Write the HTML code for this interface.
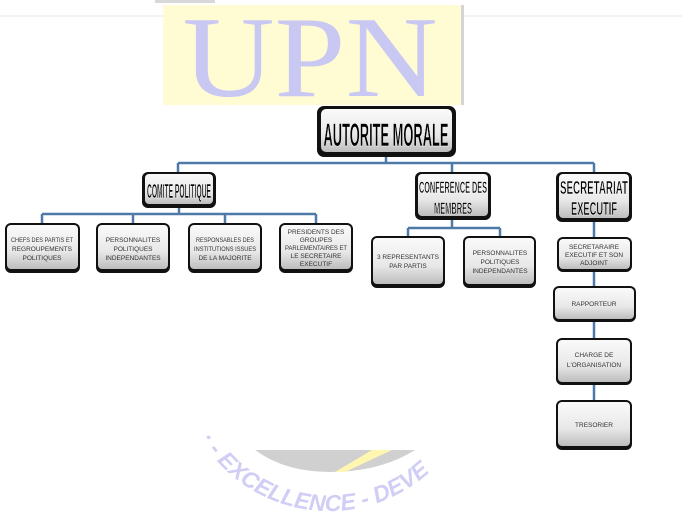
<!DOCTYPE html>
<html><head><meta charset="utf-8"><style>
html,body{margin:0;padding:0;background:#fff;}
svg{display:block;}
text{font-family:"Liberation Sans",sans-serif;}
</style></head><body>
<svg width="682" height="512" viewBox="0 0 682 512" xmlns="http://www.w3.org/2000/svg">
<defs>
<linearGradient id="g" x1="0" y1="0" x2="0" y2="1">
<stop offset="0" stop-color="#fafafa"/><stop offset="0.6" stop-color="#e8e8e8"/><stop offset="1" stop-color="#bdbdbd"/>
</linearGradient>
<path id="arc" d="M 200 438 A 150 150 0 0 0 462 430"/>
</defs>
<line x1="0" y1="16" x2="682" y2="16" stroke="#e4e4e4" stroke-width="1"/>
<rect x="155" y="0" width="60" height="3" fill="#d8d8d8"/>
<rect x="163" y="5" width="301" height="100" fill="#fffcd4"/>
<rect x="461" y="5" width="3" height="100" fill="#d4d4d4"/>
<text x="310" y="96" text-anchor="middle" font-size="116" fill="#c9c8f2" style="font-family:'Liberation Serif',serif" textLength="255" lengthAdjust="spacingAndGlyphs">UPN</text>

<!-- watermark bottom -->
<path d="M255 450 L415 450 Q380 472 330 472 Q285 472 255 450 Z" fill="#c4c4c4" opacity="0.8"/>
<path d="M335 472 L372 450 L392 450 L345 472 Z" fill="#fff6b0"/>
<text font-size="23" font-weight="bold" fill="#d0cef5" font-style="italic"><textPath href="#arc" startOffset="0">· - EXCELLENCE - DEVE</textPath></text>

<g stroke="#4f7aa8" stroke-width="2.5" fill="none">
<line x1="386" y1="155" x2="386" y2="163"/>
<line x1="178" y1="163" x2="594" y2="163"/>
<line x1="178" y1="163" x2="178" y2="173"/>
<line x1="452" y1="163" x2="452" y2="173"/>
<line x1="594" y1="163" x2="594" y2="173"/>
<line x1="179" y1="207" x2="179" y2="214"/>
<line x1="42" y1="214" x2="316" y2="214"/>
<line x1="42" y1="214" x2="42" y2="224"/>
<line x1="133" y1="214" x2="133" y2="224"/>
<line x1="225" y1="214" x2="225" y2="224"/>
<line x1="316" y1="214" x2="316" y2="224"/>
<line x1="452" y1="219" x2="452" y2="228"/>
<line x1="408" y1="228" x2="500" y2="228"/>
<line x1="408" y1="228" x2="408" y2="237"/>
<line x1="500" y1="228" x2="500" y2="237"/>
<line x1="594" y1="221" x2="594" y2="400"/>
</g>

<g font-weight="bold" fill="#000" stroke="#fff" stroke-width="0.5" text-anchor="middle">
<rect x="317" y="106" width="139" height="51" rx="7" fill="#111" stroke="none"/>
<rect x="321" y="109" width="131" height="43" rx="5" fill="url(#g)" stroke="none"/>
<text x="386" y="146" font-size="32" textLength="125" lengthAdjust="spacingAndGlyphs">AUTORITE MORALE</text>

<rect x="142" y="172" width="74" height="36" rx="6" fill="#111" stroke="none"/>
<rect x="145" y="174" width="68" height="30" rx="4" fill="url(#g)" stroke="none"/>
<text x="179" y="198" font-size="20" textLength="64" lengthAdjust="spacingAndGlyphs">COMITE POLITIQUE</text>

<rect x="415" y="172" width="76" height="48" rx="6" fill="#111" stroke="none"/>
<rect x="418" y="174" width="70" height="42" rx="4" fill="url(#g)" stroke="none"/>
<text x="453" y="193" font-size="17" textLength="68" lengthAdjust="spacingAndGlyphs">CONFERENCE DES</text>
<text x="453" y="214" font-size="17" textLength="38" lengthAdjust="spacingAndGlyphs">MEMBRES</text>

<rect x="556" y="172" width="76" height="50" rx="6" fill="#111" stroke="none"/>
<rect x="559" y="174" width="70" height="44" rx="4" fill="url(#g)" stroke="none"/>
<text x="594" y="194" font-size="18" textLength="68" lengthAdjust="spacingAndGlyphs">SECRETARIAT</text>
<text x="594" y="215" font-size="18" textLength="46" lengthAdjust="spacingAndGlyphs">EXECUTIF</text>
</g>

<g font-size="6.5" fill="#333" text-anchor="middle">
<rect x="5" y="223" width="75" height="50" rx="6" fill="#111"/>
<rect x="7" y="225" width="71" height="44" rx="4" fill="url(#g)"/>
<text x="42" y="242" textLength="62" lengthAdjust="spacingAndGlyphs">CHEFS DES PARTIS ET</text><text x="42" y="251">REGROUPEMENTS</text><text x="42" y="260">POLITIQUES</text>

<rect x="96" y="223" width="74" height="50" rx="6" fill="#111"/>
<rect x="98" y="225" width="70" height="44" rx="4" fill="url(#g)"/>
<text x="133" y="242">PERSONNALITES</text><text x="133" y="251">POLITIQUES</text><text x="133" y="260">INDEPENDANTES</text>

<rect x="188" y="223" width="74" height="50" rx="6" fill="#111"/>
<rect x="190" y="225" width="70" height="44" rx="4" fill="url(#g)"/>
<text x="225" y="242" textLength="58" lengthAdjust="spacingAndGlyphs">RESPONSABLES DES</text><text x="225" y="251" textLength="62" lengthAdjust="spacingAndGlyphs">INSTITUTIONS ISSUES</text><text x="225" y="260">DE LA MAJORITE</text>

<rect x="279" y="223" width="74" height="50" rx="6" fill="#111"/>
<rect x="281" y="225" width="70" height="44" rx="4" fill="url(#g)"/>
<text x="316" y="234">PRESIDENTS DES</text><text x="316" y="242">GROUPES</text><text x="316" y="250" textLength="62" lengthAdjust="spacingAndGlyphs">PARLEMENTAIRES ET</text><text x="316" y="258">LE SECRETAIRE</text><text x="316" y="266">EXECUTIF</text>

<rect x="371" y="236" width="74" height="52" rx="6" fill="#111"/>
<rect x="373" y="238" width="70" height="46" rx="4" fill="url(#g)"/>
<text x="408" y="259">3 REPRESENTANTS</text><text x="408" y="268">PAR PARTIS</text>

<rect x="463" y="236" width="73" height="52" rx="6" fill="#111"/>
<rect x="465" y="238" width="69" height="46" rx="4" fill="url(#g)"/>
<text x="500" y="255">PERSONNALITES</text><text x="500" y="264">POLITIQUES</text><text x="500" y="273">INDEPENDANTES</text>

<rect x="557" y="237" width="75" height="35" rx="6" fill="#111"/>
<rect x="559" y="239" width="71" height="30" rx="4" fill="url(#g)"/>
<text x="594" y="249">SECRETARAIRE</text><text x="594" y="257">EXECUTIF ET SON</text><text x="594" y="265">ADJOINT</text>

<rect x="553" y="286" width="83" height="36" rx="6" fill="#111"/>
<rect x="555" y="288" width="79" height="31" rx="4" fill="url(#g)"/>
<text x="594" y="306">RAPPORTEUR</text>

<rect x="556" y="338" width="76" height="47" rx="6" fill="#111"/>
<rect x="558" y="340" width="72" height="42" rx="4" fill="url(#g)"/>
<text x="594" y="357">CHARGE DE</text><text x="594" y="367">L'ORGANISATION</text>

<rect x="556" y="400" width="76" height="50" rx="6" fill="#111"/>
<rect x="558" y="402" width="72" height="44" rx="4" fill="url(#g)"/>
<text x="594" y="427">TRESORIER</text>
</g>
</svg>
</body></html>
